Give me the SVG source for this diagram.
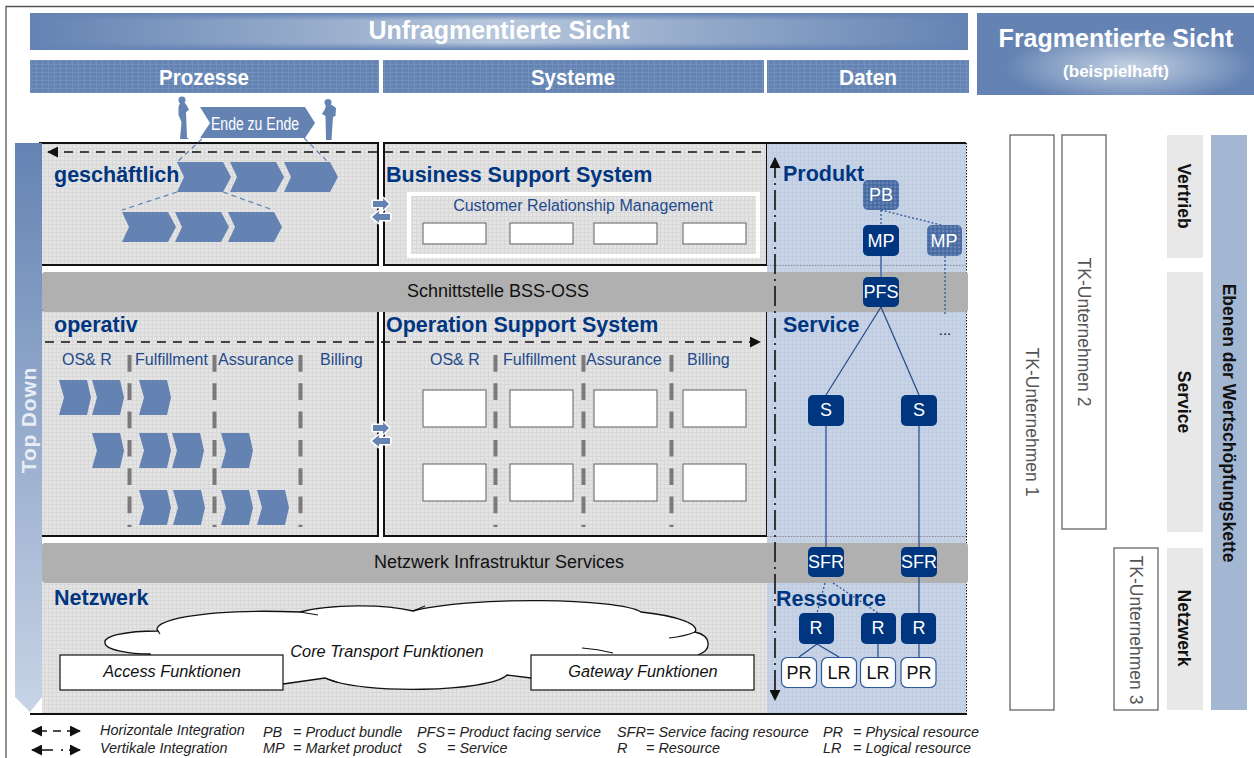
<svg xmlns="http://www.w3.org/2000/svg" width="1254" height="758" viewBox="0 0 1254 758">
<style>
text{font-family:"Liberation Sans",Arial,sans-serif}
.hd{font-weight:bold;fill:#fff;text-anchor:middle}
.h2{font-weight:bold;font-size:21.5px;fill:#003580}
.col{font-size:16px;fill:#1f4a8c}
.band{font-size:18px;fill:#111;text-anchor:middle}
.it{font-style:italic;font-size:16.300px;fill:#111;text-anchor:middle}
.lg{font-style:italic;font-size:14.400px;fill:#222}
.n{fill:#003580}
.nh{fill:url(#hatch)}
.nw{fill:#fff;stroke:#2f5a9a;stroke-width:1.2}
.nt{font-size:18px;fill:#fff;text-anchor:middle}
.nb{font-size:18px;fill:#111;text-anchor:middle}
.box{fill:#fff;stroke:#777;stroke-width:1.2}
.wb{fill:#fff;stroke:#111;stroke-width:1.2}
.tk{fill:#fff;stroke:#666;stroke-width:1.3}
.tkt{font-size:17.5px;fill:#555;text-anchor:middle}
.lv{font-weight:bold;font-size:17.500px;fill:#111;text-anchor:middle}
.vd{stroke:#7a7a7a;stroke-width:4;stroke-dasharray:16.7 11.6;fill:none}
.bl{stroke:#111;stroke-width:2}
.dash{stroke:#111;stroke-width:1.6;stroke-dasharray:9 7;fill:none}
.ln{stroke:#1f4a8c;stroke-width:1.2;fill:none}
.dt{stroke:#2f5a9a;stroke-width:1.3;stroke-dasharray:2 2;fill:none}
</style>
<defs>
<pattern id="tex" width="4" height="4" patternUnits="userSpaceOnUse"><rect width="4" height="4" fill="#e4e4e4"/><path d="M0 .5H4M.5 0V4" stroke="#d8d8d8" stroke-width="1"/></pattern>
<pattern id="texb" width="4" height="4" patternUnits="userSpaceOnUse"><rect width="4" height="4" fill="#c8d4e6"/><path d="M0 .5H4M.5 0V4" stroke="#bfcce1" stroke-width="1"/></pattern>
<pattern id="texh" width="6" height="4" patternUnits="userSpaceOnUse"><rect width="6" height="4" fill="#6483b3"/><path d="M0 .5H6M.5 0V4" stroke="#7391bd" stroke-width="1"/></pattern>
<pattern id="hatch" width="4" height="4" patternUnits="userSpaceOnUse"><rect width="4" height="4" fill="#6483b3"/><path d="M0 1H4M1 0V4" stroke="#3a5f9c" stroke-width="1"/></pattern>
<linearGradient id="gU"><stop offset="0" stop-color="#6483b3"/><stop offset=".5" stop-color="#b8c7dc"/><stop offset="1" stop-color="#6483b3"/></linearGradient>
<linearGradient id="gV" x2="0" y2="1"><stop offset="0" stop-color="#6483b3"/><stop offset=".2" stop-color="#6483b3" stop-opacity="0"/><stop offset=".8" stop-color="#6483b3" stop-opacity="0"/><stop offset="1" stop-color="#6483b3"/></linearGradient>
<radialGradient id="gF" cx=".55" cy=".65" r=".5"><stop offset="0" stop-color="#c4d1e2"/><stop offset=".9" stop-color="#6483b3"/></radialGradient>
<linearGradient id="gT" x2="0" y2="1"><stop offset="0" stop-color="#6483b3"/><stop offset="1" stop-color="#c8d4e6"/></linearGradient>
<marker id="ah" viewBox="0 0 12 12" refX="11" refY="6" markerWidth="11" markerHeight="11" markerUnits="userSpaceOnUse" orient="auto-start-reverse"><path d="M0 0L12 6L0 12z" fill="#111"/></marker>
<path id="c1" d="M0 0H46L54 15L46 30H0L7 15z" fill="#6483b3"/>
<path id="c2" d="M0 0H28L32 17.500L28 35H0L5 17.500z" fill="#6483b3"/>
<g id="dbl" fill="#6483b3" stroke="#fff" stroke-width="3" paint-order="stroke" stroke-linejoin="round"><path d="M-8-3H2V-6L8 0L2 6V3H-8z"/><path d="M9 10H-2V7L-9 13L-2 19V16H9z"/></g>
</defs>

<g id="frame"><path d="M6 758V6.500H1254" fill="none" stroke="#555" stroke-width="1.3"/></g>

<g id="header-unfragmentiert"><rect x="30" y="13" width="938" height="37" fill="url(#gU)"/><rect x="30" y="13" width="938" height="37" fill="url(#gV)"/><text x="499" y="39" class="hd" font-size="25">Unfragmentierte Sicht</text></g>
<g id="header-prozesse"><rect x="30" y="60" width="349" height="33" fill="url(#texh)"/><text x="204" y="85" class="hd" font-size="22" textLength="90" lengthAdjust="spacingAndGlyphs">Prozesse</text></g>
<g id="header-systeme"><rect x="383" y="60" width="381" height="33" fill="url(#texh)"/><text x="573" y="85" class="hd" font-size="22" textLength="84" lengthAdjust="spacingAndGlyphs">Systeme</text></g>
<g id="header-daten"><rect x="767" y="60" width="202" height="33" fill="url(#texh)"/><text x="868" y="85" class="hd" font-size="22" textLength="58" lengthAdjust="spacingAndGlyphs">Daten</text></g>
<g id="header-fragmentiert"><rect x="977" y="13" width="277" height="82" fill="url(#gF)"/><text x="1116" y="47" class="hd" font-size="25">Fragmentierte Sicht</text><text x="1116" y="77" class="hd" font-size="17">(beispielhaft)</text></g>

<g id="panels">
<rect x="40" y="143" width="338" height="122" fill="url(#tex)" class="bl"/>
<rect x="384" y="143" width="383" height="122" fill="url(#tex)" class="bl"/>
<rect x="40" y="310" width="338" height="226" fill="url(#tex)" class="bl"/>
<rect x="384" y="310" width="383" height="226" fill="url(#tex)" class="bl"/>
<rect x="42" y="583" width="725" height="131" fill="url(#tex)"/>
<rect x="767" y="143" width="199" height="571" fill="url(#texb)"/>
<path d="M767 143H966" class="bl" fill="none"/>
<path d="M966.500 143V714" stroke="#111" stroke-dasharray="1.500 1.500" fill="none"/>
<path d="M767 265.500H966M767 536.500H966" stroke="#8a8a8a" stroke-dasharray="1.500 1.500" fill="none"/>
<path d="M30 714H967" class="bl" fill="none"/>
</g>

<g id="sidebar-top-down"><path d="M15 143H42V697L30 712L15 697z" fill="url(#gT)"/><text transform="translate(36 420) rotate(-90)" text-anchor="middle" font-size="21" font-weight="bold" fill="#e8edf5" letter-spacing=".8">Top Down</text></g>

<g id="band-bss-oss"><rect x="42" y="272" width="926" height="40" rx="3" fill="#b0b0b0"/><text x="498" y="297" class="band">Schnittstelle BSS-OSS</text></g>
<g id="band-netzwerk"><rect x="42" y="543" width="926" height="40" rx="3" fill="#b0b0b0"/><text x="499" y="568" class="band">Netzwerk Infrastruktur Services</text></g>

<g id="end-to-end">
<path d="M200 107H305L315 123L305 138H200L210 123z" fill="#6483b3"/>
<text x="255" y="130" font-size="18" fill="#fff" text-anchor="middle" textLength="88" lengthAdjust="spacingAndGlyphs">Ende zu Ende</text>
<g fill="#6483b3">
<circle cx="182" cy="100" r="3.500"/><path d="M180 103H185L187 106L189 110L186 112L187 138H188.500V139H180L181.500 122L178.500 115V107z"/>
<circle cx="328" cy="102.500" r="3.500"/><path d="M326 105H332L336 108L335.500 116L333 117L331.500 140H326L325.500 116L322 114L325 109z"/>
</g>
</g>

<g id="process-chevrons">
<path d="M202 139L177 162M304 138L328 162M177 192L122 210M223 192L273 210" stroke="#6483b3" stroke-width="1.300" stroke-dasharray="5 4" fill="none"/>
<use href="#c1" x="177" y="162"/><use href="#c1" x="230" y="162"/><use href="#c1" x="284" y="162"/>
<use href="#c1" x="122" y="212"/><use href="#c1" x="175" y="212"/><use href="#c1" x="228" y="212"/>
<use href="#c2" x="59" y="380"/><use href="#c2" x="92" y="380"/><use href="#c2" x="139" y="380"/>
<use href="#c2" x="92" y="433"/><use href="#c2" x="139" y="433"/><use href="#c2" x="172" y="433"/><use href="#c2" x="221" y="433"/>
<use href="#c2" x="139" y="490"/><use href="#c2" x="173" y="490"/><use href="#c2" x="221" y="490"/><use href="#c2" x="257" y="490"/>
</g>

<g id="system-boxes">
<rect x="409" y="194" width="349" height="62" fill="none" stroke="#fff" stroke-width="4"/>
<text x="583" y="211" class="col" text-anchor="middle">Customer Relationship Management</text>
<rect x="423" y="223" width="63" height="21" class="box"/><rect x="510" y="223" width="63" height="21" class="box"/><rect x="594" y="223" width="63" height="21" class="box"/><rect x="683" y="223" width="63" height="21" class="box"/>
<rect x="423" y="390" width="63" height="37" class="box"/><rect x="510" y="390" width="63" height="37" class="box"/><rect x="594" y="390" width="63" height="37" class="box"/><rect x="683" y="390" width="63" height="37" class="box"/>
<rect x="423" y="464" width="63" height="37" class="box"/><rect x="510" y="464" width="63" height="37" class="box"/><rect x="594" y="464" width="63" height="37" class="box"/><rect x="683" y="464" width="63" height="37" class="box"/>
</g>

<g id="phase-dividers">
<path d="M129.500 355V527M214.500 355V527M300.500 355V527M495.500 355V527M583.500 355V527M671.500 355V527" class="vd"/>
</g>

<g id="headings">
<text x="54" y="182" class="h2">geschäftlich</text>
<text x="386" y="182" class="h2">Business Support System</text>
<text x="783" y="181" class="h2">Produkt</text>
<text x="54" y="332" class="h2">operativ</text>
<text x="386" y="332" class="h2">Operation Support System</text>
<text x="783" y="332" class="h2">Service</text>
<text x="54" y="605" class="h2">Netzwerk</text>
<text x="776" y="606" class="h2">Ressource</text>
<text x="62" y="365" class="col">OS&amp; R</text><text x="135" y="365" class="col">Fulfillment</text><text x="218" y="365" class="col">Assurance</text><text x="320" y="365" class="col">Billing</text>
<text x="430" y="365" class="col">OS&amp; R</text><text x="503" y="365" class="col">Fulfillment</text><text x="586" y="365" class="col">Assurance</text><text x="687" y="365" class="col">Billing</text>
</g>

<g id="network-functions">
<path d="M105 643C103 636 125 631 158 631C150 622 195 608 300 612C330 604 385 604 413 611C470 596 620 598 641 612C680 616 700 625 695 632C712 636 712 650 698 655L698 680L531 678L507 675C490 692 360 695 325 678L283 684H150V654C130 654 105 650 105 643z" fill="#fff" stroke="#111" stroke-width="1.300"/>
<path d="M300 612L318 615M413 611L425 606M695 632C688 635 678 637 669 638M582 648C595 649 605 651 613 653M325 678L337 682M158 631L160 634" fill="none" stroke="#111" stroke-width="1.200"/>
<text x="387" y="657" class="it">Core Transport Funktionen</text>
<rect x="60" y="655" width="223" height="35" class="wb"/><text x="172" y="677" class="it">Access Funktionen</text>
<rect x="531" y="655" width="223" height="35" class="wb"/><text x="643" y="677" class="it">Gateway Funktionen</text>
</g>

<g id="connectors">
<path d="M48 152H762M45 342H760" class="dash" marker-start="url(#ah)" marker-end="url(#ah)"/>
<path d="M775 158V700" stroke="#111" stroke-width="1.600" stroke-dasharray="20 5 2 5" fill="none" marker-start="url(#ah)" marker-end="url(#ah)"/>
<path d="M881 210V225M881 210L945 226M945 256V314M825 583L817 613M833 583L878 613" class="dt"/>
<path d="M881 256V277" stroke="#5f80b0" stroke-width="2" fill="none"/>
<path d="M881 307L826 395M881 307L919 395M826 426V547M919 426V547M919 577V613M817 644L799 657M817 644L839 657M878 644V657M919 644V657" class="ln"/>
<use href="#dbl" x="381" y="204"/><use href="#dbl" x="381" y="428"/>
</g>

<g id="node-pb"><rect x="863" y="180" width="36" height="30" rx="5" class="nh"/><text x="881" y="201" class="nt">PB</text></g>
<g id="node-mp1"><rect x="863" y="225" width="36" height="31" rx="5" class="n"/><text x="881" y="247" class="nt">MP</text></g>
<g id="node-mp2"><rect x="927" y="225" width="35" height="31" rx="5" class="nh"/><text x="944" y="247" class="nt">MP</text></g>
<g id="node-pfs"><rect x="863" y="277" width="36" height="30" rx="5" class="n"/><text x="881" y="298" class="nt">PFS</text></g>
<g id="node-s1"><rect x="808" y="395" width="36" height="31" rx="5" class="n"/><text x="826" y="416" class="nt">S</text></g>
<g id="node-s2"><rect x="901" y="395" width="36" height="31" rx="5" class="n"/><text x="919" y="416" class="nt">S</text></g>
<g id="node-sfr1"><rect x="808" y="547" width="36" height="30" rx="5" class="n"/><text x="826" y="568" class="nt">SFR</text></g>
<g id="node-sfr2"><rect x="901" y="547" width="36" height="30" rx="5" class="n"/><text x="919" y="568" class="nt">SFR</text></g>
<g id="node-r1"><rect x="799" y="613" width="35" height="31" rx="5" class="n"/><text x="816" y="634" class="nt">R</text></g>
<g id="node-r2"><rect x="861" y="613" width="35" height="31" rx="5" class="n"/><text x="878" y="634" class="nt">R</text></g>
<g id="node-r3"><rect x="901" y="613" width="35" height="31" rx="5" class="n"/><text x="919" y="634" class="nt">R</text></g>
<g id="node-pr1"><rect x="781.500" y="657.500" width="35" height="30" rx="6" class="nw"/><text x="799" y="679" class="nb">PR</text></g>
<g id="node-lr1"><rect x="821.500" y="657.500" width="35" height="30" rx="6" class="nw"/><text x="839" y="679" class="nb">LR</text></g>
<g id="node-lr2"><rect x="860.500" y="657.500" width="35" height="30" rx="6" class="nw"/><text x="878" y="679" class="nb">LR</text></g>
<g id="node-pr2"><rect x="901" y="657.500" width="35" height="30" rx="6" class="nw"/><text x="919" y="679" class="nb">PR</text></g>
<g id="ellipsis"><text x="945" y="335" font-size="15" fill="#111" text-anchor="middle">...</text></g>

<g id="tk-1"><rect x="1010" y="135" width="44" height="575" class="tk"/><text transform="translate(1026 422) rotate(90)" class="tkt">TK-Unternehmen 1</text></g>
<g id="tk-2"><rect x="1062" y="135" width="44" height="394" class="tk"/><text transform="translate(1078 332) rotate(90)" class="tkt">TK-Unternehmen 2</text></g>
<g id="tk-3"><rect x="1114" y="548" width="44" height="162" class="tk"/><text transform="translate(1130 630) rotate(90)" class="tkt">TK-Unternehmen 3</text></g>

<g id="level-vertrieb"><rect x="1167" y="135" width="36" height="123" fill="#e8e8e8"/><text transform="translate(1178 196) rotate(90)" class="lv">Vertrieb</text></g>
<g id="level-service"><rect x="1167" y="272" width="36" height="260" fill="#e8e8e8"/><text transform="translate(1178 402) rotate(90)" class="lv">Service</text></g>
<g id="level-netzwerk"><rect x="1167" y="548" width="36" height="162" fill="#e8e8e8"/><text transform="translate(1178 628) rotate(90)" class="lv">Netzwerk</text></g>
<g id="level-chain"><rect x="1211" y="135" width="36" height="575" fill="#a3b7d3"/><text transform="translate(1223 423) rotate(90)" class="lv">Ebenen der Wertschöpfungskette</text></g>

<g id="legend">
<path d="M32 731H80" stroke="#111" stroke-width="1.600" stroke-dasharray="15 6 8 6 20" fill="none" marker-start="url(#ah)" marker-end="url(#ah)"/>
<path d="M32 750H80" stroke="#111" stroke-width="1.600" stroke-dasharray="21 8 2 6 20" fill="none" marker-start="url(#ah)" marker-end="url(#ah)"/>
<text x="100" y="735" class="lg">Horizontale Integration</text><text x="100" y="753" class="lg">Vertikale Integration</text>
<text x="263" y="737" class="lg">PB</text><text x="293" y="737" class="lg">= Product bundle</text>
<text x="263" y="753" class="lg">MP</text><text x="293" y="753" class="lg">= Market product</text>
<text x="417" y="737" class="lg">PFS</text><text x="447" y="737" class="lg">= Product facing service</text>
<text x="417" y="753" class="lg">S</text><text x="447" y="753" class="lg">= Service</text>
<text x="617" y="737" class="lg">SFR</text><text x="646" y="737" class="lg">= Service facing resource</text>
<text x="617" y="753" class="lg">R</text><text x="646" y="753" class="lg">= Resource</text>
<text x="823" y="737" class="lg">PR</text><text x="853" y="737" class="lg">= Physical resource</text>
<text x="823" y="753" class="lg">LR</text><text x="853" y="753" class="lg">= Logical resource</text>
</g>
</svg>
